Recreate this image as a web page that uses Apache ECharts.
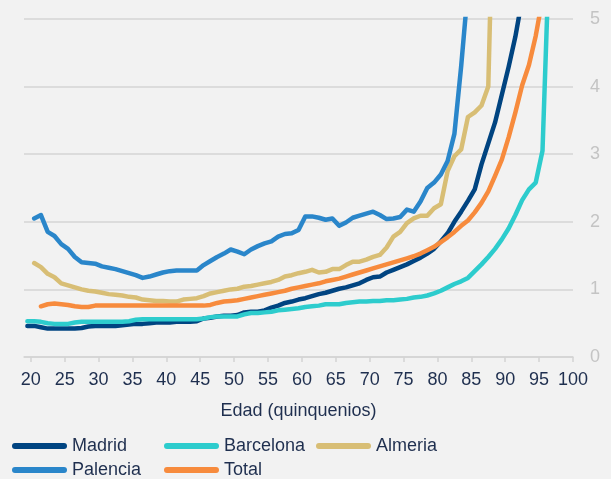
<!DOCTYPE html>
<html>
<head>
<meta charset="utf-8">
<script src="https://cdn.jsdelivr.net/npm/echarts@6/dist/echarts.min.js"></script>
<style>
  html, body { margin: 0; padding: 0; background: #f2f2f2; }
  #chart { width: 611px; height: 479px; }
</style>
</head>
<body>
<div id="chart"></div>
<script>
// edades 19..96, un valor por año (null = sin dato)
const ages = []
for (let a = 19; a <= 96; a++) ages.push(a)

const madrid = [
  0.46, 0.46, 0.44, 0.42, 0.42, 0.42, 0.42, 0.42, 0.43, 0.45,
  0.46, 0.46, 0.46, 0.46, 0.47, 0.48, 0.49, 0.49, 0.50, 0.51,
  0.51, 0.51, 0.52, 0.52, 0.52, 0.53, 0.57, 0.58, 0.60, 0.61,
  0.61, 0.62, 0.66, 0.67, 0.67, 0.69, 0.73, 0.76, 0.80, 0.82,
  0.85, 0.87, 0.90, 0.93, 0.95, 0.98, 1.01, 1.03, 1.06, 1.09,
  1.14, 1.18, 1.19, 1.25, 1.29, 1.33, 1.37, 1.42, 1.47, 1.53,
  1.60, 1.71, 1.83, 2.00, 2.15, 2.31, 2.48, 2.85, 3.16, 3.47,
  3.88, 4.29, 4.74, 5.30, null, null, null, null
]
const barcelona = [
  0.53, 0.53, 0.52, 0.50, 0.49, 0.49, 0.49, 0.51, 0.52, 0.52,
  0.52, 0.52, 0.52, 0.52, 0.52, 0.53, 0.55, 0.56, 0.56, 0.56,
  0.56, 0.56, 0.56, 0.56, 0.56, 0.56, 0.57, 0.59, 0.60, 0.60,
  0.60, 0.60, 0.63, 0.65, 0.65, 0.66, 0.67, 0.69, 0.70, 0.71,
  0.72, 0.74, 0.75, 0.76, 0.78, 0.78, 0.78, 0.80, 0.81, 0.82,
  0.82, 0.83, 0.83, 0.84, 0.84, 0.85, 0.86, 0.88, 0.89, 0.91,
  0.94, 0.98, 1.03, 1.08, 1.12, 1.17, 1.27, 1.37, 1.48, 1.60,
  1.74, 1.90, 2.10, 2.32, 2.48, 2.58, 3.05, 6.00
]
const almeria = [
  null, 1.39, 1.33, 1.23, 1.18, 1.09, 1.06, 1.03, 1.00, 0.98,
  0.97, 0.95, 0.93, 0.92, 0.91, 0.89, 0.88, 0.85, 0.84, 0.83,
  0.83, 0.82, 0.82, 0.85, 0.86, 0.87, 0.90, 0.94, 0.96, 0.98,
  1.00, 1.01, 1.04, 1.05, 1.07, 1.09, 1.11, 1.14, 1.19, 1.21,
  1.24, 1.26, 1.29, 1.25, 1.26, 1.30, 1.30, 1.36, 1.41, 1.41,
  1.44, 1.48, 1.51, 1.62, 1.78, 1.85, 1.98, 2.05, 2.09, 2.09,
  2.20, 2.26, 2.75, 2.97, 3.07, 3.55, 3.62, 3.72, 4.00, 8.00,
  null, null, null, null, null, null, null, null
]
const palencia = [
  null, 2.05, 2.10, 1.85, 1.79, 1.67, 1.60, 1.48, 1.40, 1.39,
  1.38, 1.34, 1.32, 1.30, 1.27, 1.24, 1.21, 1.17, 1.19, 1.22,
  1.25, 1.27, 1.28, 1.28, 1.28, 1.28, 1.36, 1.42, 1.48, 1.53,
  1.59, 1.56, 1.52, 1.59, 1.64, 1.68, 1.71, 1.78, 1.82, 1.83,
  1.88, 2.08, 2.08, 2.06, 2.03, 2.05, 1.94, 1.99, 2.06, 2.09,
  2.12, 2.15, 2.10, 2.04, 2.05, 2.07, 2.18, 2.15, 2.30, 2.50,
  2.58, 2.70, 2.90, 3.30, 4.30, 5.45, 6.50, null, null, null,
  null, null, null, null, null, null, null, null
]
const total = [
  null, null, 0.75, 0.78, 0.79, 0.78, 0.77, 0.75, 0.74, 0.74,
  0.76, 0.76, 0.76, 0.76, 0.76, 0.76, 0.76, 0.76, 0.76, 0.76,
  0.76, 0.76, 0.76, 0.76, 0.76, 0.76, 0.76, 0.77, 0.80, 0.82,
  0.83, 0.84, 0.86, 0.88, 0.90, 0.92, 0.94, 0.96, 0.98, 1.01,
  1.03, 1.05, 1.07, 1.09, 1.12, 1.14, 1.16, 1.19, 1.22, 1.25,
  1.28, 1.31, 1.34, 1.37, 1.40, 1.43, 1.46, 1.49, 1.53, 1.58,
  1.63, 1.70, 1.77, 1.85, 1.94, 2.02, 2.14, 2.28, 2.45, 2.68,
  2.92, 3.25, 3.62, 4.02, 4.32, 4.75, 5.30, null
]

const xTickLabels = [20, 25, 30, 35, 40, 45, 50, 55, 60, 65, 70, 75, 80, 85, 90, 95, 100]

const names = ['Madrid', 'Barcelona', 'Almeria', 'Palencia', 'Total']
const colors = ['#004481', '#2dcccd', '#d8be75', '#2a86ca', '#f78b3d']
const values = [madrid, barcelona, almeria, palencia, total]

const textColor = '#1f2f4f'
const fontFamily = '"Liberation Sans", Arial, sans-serif'

// los años caen en el centro de cada categoría, las marcas en los bordes
const tickPos = xTickLabels.map(v => v - 0.5)

function toPoints(arr) {
  const out = []
  arr.forEach((v, i) => { if (v != null) out.push([ages[i], v]) })
  return out
}

const chart = echarts.init(document.getElementById('chart'), null, { renderer: 'canvas' })

chart.setOption({
  backgroundColor: '#f2f2f2',
  animation: false,
  textStyle: { fontFamily: fontFamily },
  grid: {
    left: 24,
    right: 38,
    top: 19,
    bottom: 122
  },
  legend: {
    left: 12,
    top: 437,
    padding: 0,
    width: 470,
    itemWidth: 55,
    itemHeight: 6,
    itemGap: 6,
    icon: 'path://M3,0 H52 A3,3 0 0 1 52,6 H3 A3,3 0 0 1 3,0 Z',
    textStyle: {
      color: textColor,
      fontSize: 18,
      width: 86,
      lineHeight: 18,
      fontFamily: fontFamily
    },
    data: names
  },
  xAxis: {
    type: 'value',
    min: 18.5,
    max: 99.5,
    name: 'Edad (quinquenios)',
    nameLocation: 'middle',
    nameGap: 45,
    nameTextStyle: { color: textColor, fontSize: 18, fontFamily: fontFamily },
    axisLine: { show: true, lineStyle: { color: '#d4d4d4', width: 1.5 } },
    axisTick: {
      show: true,
      length: 5,
      customValues: tickPos,
      lineStyle: { color: '#d4d4d4', width: 1.5 }
    },
    axisLabel: {
      customValues: tickPos,
      margin: 14,
      color: textColor,
      fontSize: 18,
      fontFamily: fontFamily,
      formatter: v => String(Math.round(v + 0.5))
    },
    splitLine: { show: false }
  },
  yAxis: {
    type: 'value',
    position: 'right',
    min: 0,
    max: 5,
    interval: 1,
    axisLine: { show: false },
    axisTick: { show: false },
    axisLabel: {
      margin: 17,
      color: '#c4c4c4',
      fontSize: 18,
      fontFamily: fontFamily
    },
    splitLine: { lineStyle: { color: '#d4d4d4', width: 1.5 } }
  },
  series: names.map((n, i) => ({
    name: n,
    type: 'line',
    data: toPoints(values[i]),
    showSymbol: false,
    symbol: 'none',
    clip: true,
    itemStyle: { color: colors[i] },
    lineStyle: { color: colors[i], width: 4.5, cap: 'round', join: 'round' }
  }))
})
</script>
</body>
</html>
